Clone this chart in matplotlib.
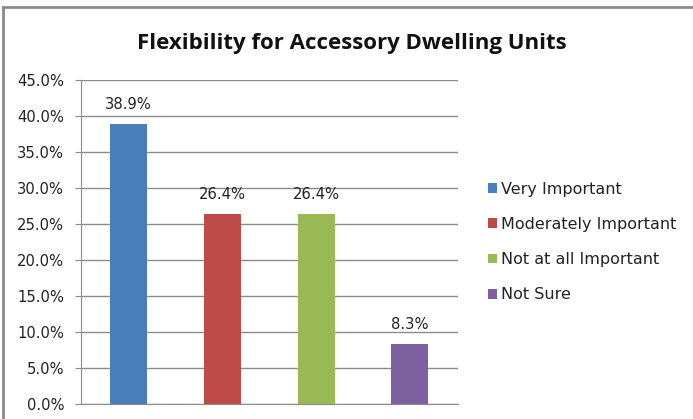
"""Bar chart: Flexibility for Accessory Dwelling Units survey responses."""

import matplotlib

matplotlib.use("Agg")
import matplotlib.pyplot as plt
from matplotlib.lines import Line2D
from matplotlib.patches import Patch
from matplotlib.ticker import FuncFormatter, MultipleLocator

categories = ["Very Important", "Moderately Important", "Not at all Important", "Not Sure"]
shares = [38.9, 26.4, 26.4, 8.3]
colors = ["#4a7ebb", "#be4b48", "#98b954", "#7d60a0"]

plt.rcParams["font.family"] = ["DejaVu Sans"]

fig = plt.figure(figsize=(6.93, 4.19), dpi=100)
ax = fig.add_axes([0.1169, 0.0358, 0.544, 0.7733])

x = range(len(categories))
ax.bar(x, shares, width=0.394, color=colors, zorder=3)
for xi, v in zip(x, shares):
    ax.text(xi, v + 2.7, f"{v:.1f}%", ha="center", va="center", fontsize=10.6, color="#222222")

ax.set_xlim(-0.506, 3.513)
ax.set_ylim(0, 45)
ax.yaxis.set_major_locator(MultipleLocator(5))
ax.yaxis.set_major_formatter(FuncFormatter(lambda v, _: f"{v:.1f}%"))
ax.set_xticks([])
ax.grid(axis="y", color="#8c8c8c", linewidth=1.0, zorder=0)
for side in ("top", "right"):
    ax.spines[side].set_visible(False)
ax.spines["left"].set_color("#8c8c8c")
ax.spines["bottom"].set_color("#8c8c8c")
ax.tick_params(axis="y", length=4, color="#8c8c8c", labelsize=10.6, labelcolor="#222222", pad=8)

fig.text(0.507, 0.897, "Flexibility for Accessory Dwelling Units", ha="center", va="center",
         fontsize=16, fontweight="bold", color="#111111", family=["Open Sans", "DejaVu Sans"])

handles = [Patch(facecolor=c, edgecolor="none") for c in colors]
fig.legend(handles, categories, loc="center left", bbox_to_anchor=(0.704, 0.4224), frameon=False,
           fontsize=11.5, handlelength=0.55, handleheight=0.55, handletextpad=0.3,
           labelspacing=1.27, borderpad=0, borderaxespad=0, labelcolor="#222222")

# outer chart frame
fig.add_artist(Line2D([0.004, 1.0], [0.983, 0.983], transform=fig.transFigure, color="#8a8a8a", linewidth=2))
fig.add_artist(Line2D([0.005, 0.005], [0.0, 0.983], transform=fig.transFigure, color="#8a8a8a", linewidth=2))

fig.savefig("out.png", dpi=100)
